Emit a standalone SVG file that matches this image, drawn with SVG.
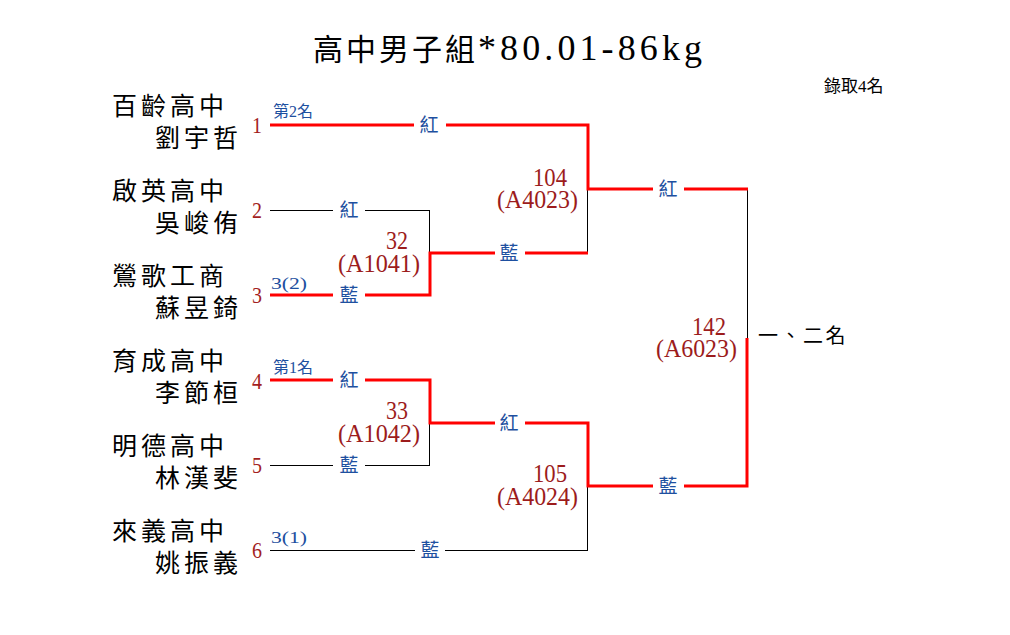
<svg xmlns="http://www.w3.org/2000/svg" width="1010" height="635" viewBox="0 0 1010 635">
<style>
text { font-family: "Liberation Serif", "Noto Sans CJK TC", serif; }
.title { font-size: 30px; fill: #000; }
.name { font-size: 25px; fill: #000; letter-spacing: 4px; }
.seed { font-size: 24px; fill: #a31f1f; }
.tag { font-size: 16px; fill: #1e50a0; }
.col { font-size: 19px; fill: #1e50a0; text-anchor: middle; }
.mnum { font-size: 25px; fill: #9c1c1c; text-anchor: end; }
.red { fill: none; stroke: #ff0000; stroke-width: 3; stroke-linejoin: miter; }
.thin { fill: none; stroke: #000; stroke-width: 1; shape-rendering: crispEdges; }
</style>
<rect width="1010" height="635" fill="#fff"/>

<g id="title">
<text class="title" x="313" y="60" letter-spacing="3">高中男子組</text>
<text x="478" y="60" font-size="36" textLength="224" lengthAdjust="spacing">*80.01-86kg</text>
<text x="824" y="92" font-size="17">錄取<tspan style="font-family:'Liberation Serif',serif">4</tspan>名</text>
</g>

<g id="connectors">
<path class="thin" d="M270,210.5 H333 M365,210.5 H429.5 V253"/>
<path class="thin" d="M270,465.5 H333 M365,465.5 H429.5 V423"/>
<path class="thin" d="M587.5,189 V253"/>
<path class="thin" d="M270,550.5 H415 M445,550.5 H587.5 V486"/>
<path class="thin" d="M747.5,189 V338"/>
<path class="red" d="M270,125 H414 M446,125 H588 V189 H653 M684,189 H748"/>
<path class="red" d="M270,295 H333 M365,295 H430 V253 H495 M525,253 H588"/>
<path class="red" d="M270,380 H333 M365,380 H430 V423 H495 M525,423 H588 V486 H653 M684,486 H747 V338"/>
<text class="col" x="429" y="132">紅</text>
<text class="col" x="349" y="217">紅</text>
<text class="col" x="349" y="302">藍</text>
<text class="col" x="509" y="260">藍</text>
<text class="col" x="668" y="196">紅</text>
<text class="col" x="349" y="387">紅</text>
<text class="col" x="349" y="472">藍</text>
<text class="col" x="509" y="430">紅</text>
<text class="col" x="430" y="557">藍</text>
<text class="col" x="668" y="493">藍</text>
</g>

<g id="p1">
<text class="name" x="112" y="115">百齡高中</text>
<text class="name" x="155" y="147">劉宇哲</text>
<text class="seed" x="252" y="133" textLength="10" lengthAdjust="spacingAndGlyphs">1</text>
<text class="tag" x="273" y="117">第<tspan style="font-family:'Liberation Serif',serif">2</tspan>名</text>
</g>
<g id="p2">
<text class="name" x="112" y="200">啟英高中</text>
<text class="name" x="155" y="232">吳峻侑</text>
<text class="seed" x="252" y="218" textLength="10" lengthAdjust="spacingAndGlyphs">2</text>
</g>
<g id="p3">
<text class="name" x="112" y="285">鶯歌工商</text>
<text class="name" x="155" y="317">蘇昱錡</text>
<text class="seed" x="252" y="303" textLength="10" lengthAdjust="spacingAndGlyphs">3</text>
<text class="tag" x="271" y="289" font-size="18" textLength="36" lengthAdjust="spacingAndGlyphs">3(2)</text>
</g>
<g id="p4">
<text class="name" x="112" y="370">育成高中</text>
<text class="name" x="155" y="402">李節桓</text>
<text class="seed" x="252" y="389" textLength="10" lengthAdjust="spacingAndGlyphs">4</text>
<text class="tag" x="273" y="373">第<tspan style="font-family:'Liberation Serif',serif">1</tspan>名</text>
</g>
<g id="p5">
<text class="name" x="112" y="455">明德高中</text>
<text class="name" x="155" y="487">林漢斐</text>
<text class="seed" x="252" y="473" textLength="10" lengthAdjust="spacingAndGlyphs">5</text>
</g>
<g id="p6">
<text class="name" x="112" y="540">來義高中</text>
<text class="name" x="155" y="572">姚振義</text>
<text class="seed" x="252" y="558" textLength="10" lengthAdjust="spacingAndGlyphs">6</text>
<text class="tag" x="271" y="543" font-size="18" textLength="36" lengthAdjust="spacingAndGlyphs">3(1)</text>
</g>

<g id="m32">
<text class="mnum" x="408" y="249" textLength="22" lengthAdjust="spacingAndGlyphs">32</text>
<text class="mnum" x="420" y="272" textLength="82" lengthAdjust="spacingAndGlyphs">(A1041)</text>
</g>
<g id="m33">
<text class="mnum" x="408" y="419" textLength="22" lengthAdjust="spacingAndGlyphs">33</text>
<text class="mnum" x="420" y="442" textLength="82" lengthAdjust="spacingAndGlyphs">(A1042)</text>
</g>
<g id="m104">
<text class="mnum" x="567" y="186" textLength="34" lengthAdjust="spacingAndGlyphs">104</text>
<text class="mnum" x="578" y="208" textLength="81" lengthAdjust="spacingAndGlyphs">(A4023)</text>
</g>
<g id="m105">
<text class="mnum" x="567" y="482" textLength="34" lengthAdjust="spacingAndGlyphs">105</text>
<text class="mnum" x="578" y="505" textLength="81" lengthAdjust="spacingAndGlyphs">(A4024)</text>
</g>
<g id="m142">
<text class="mnum" x="726" y="335" textLength="34" lengthAdjust="spacingAndGlyphs">142</text>
<text class="mnum" x="737" y="357" textLength="81" lengthAdjust="spacingAndGlyphs">(A6023)</text>
</g>
<g id="result">
<text x="758" y="343" font-size="20" letter-spacing="2.5">一、二名</text>
</g>
</svg>
